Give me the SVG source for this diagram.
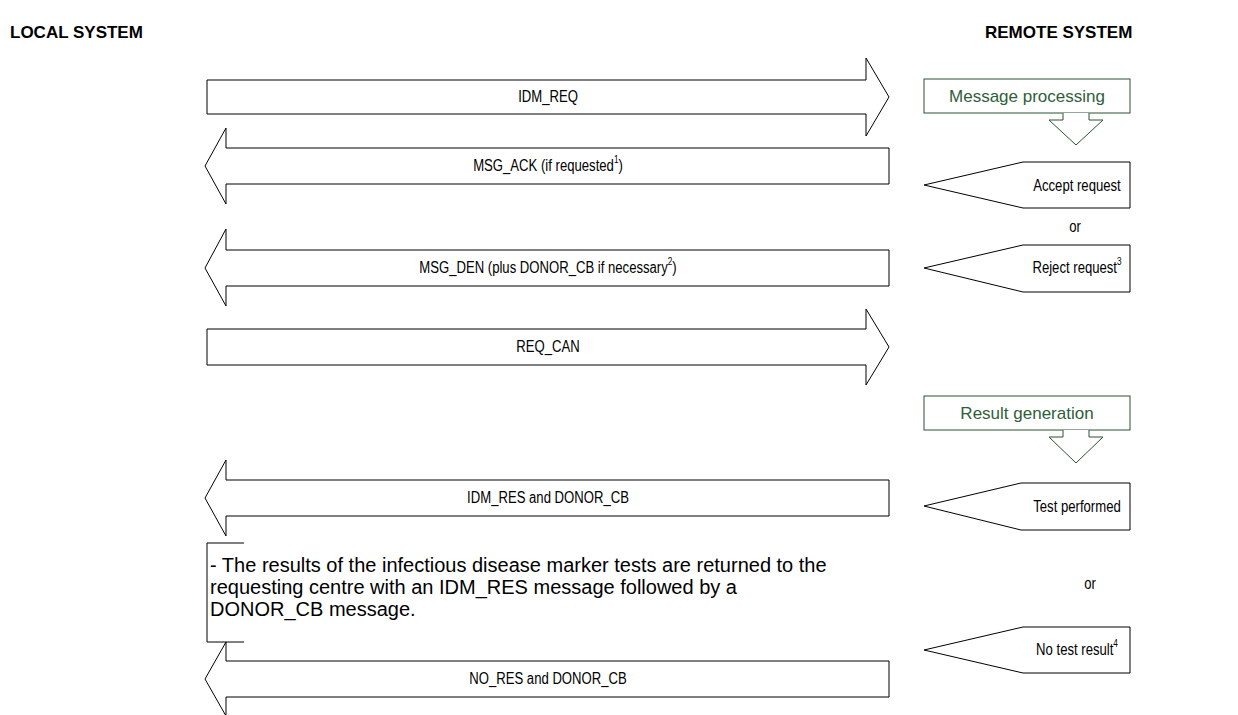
<svg xmlns="http://www.w3.org/2000/svg" width="1238" height="715" viewBox="0 0 1238 715">
<style>
.hdr{font-family:"Liberation Sans",Arial,sans-serif;font-weight:bold;font-size:17px;fill:#000}
.lbl{font-family:"Liberation Sans",Arial,sans-serif;font-size:16px;fill:#000;text-anchor:middle;dominant-baseline:central}
.grn{font-family:"Liberation Sans",Arial,sans-serif;font-size:17px;fill:#2f5e3a;text-anchor:middle;dominant-baseline:central}
.note{font-family:"Liberation Sans",Arial,sans-serif;font-size:20px;fill:#000}
.arr{fill:#fff;stroke:#000;stroke-width:1}
.gbox{fill:#fff;stroke:#2a5234;stroke-width:1}
.sup{font-size:10px}
</style>
<rect width="1238" height="715" fill="#fff"/>
<text class="hdr" x="10" y="38">LOCAL SYSTEM</text>
<text class="hdr" x="985" y="38">REMOTE SYSTEM</text>

<g id="connectors">
<g id="idm_req"><polygon class="arr" points="207,80 866,80 866,58 889,97 866,136 866,114 207,114"/><text class="lbl" transform="translate(548 97) scale(0.82 1)">IDM_REQ</text></g>
<g id="msg_ack"><polygon class="arr" points="889,148 226,148 226,128 205,166 226,204 226,184 889,184"/><text class="lbl" transform="translate(548 166) scale(0.82 1)">MSG_ACK (if requested<tspan class="sup" dy="-6">1</tspan><tspan dy="6">)</tspan></text></g>
<g id="msg_den"><polygon class="arr" points="889,250 226,250 226,229 205,268 226,306 226,286 889,286"/><text class="lbl" transform="translate(548 268) scale(0.82 1)">MSG_DEN (plus DONOR_CB if necessary<tspan class="sup" dy="-6">2</tspan><tspan dy="6">)</tspan></text></g>
<g id="req_can"><polygon class="arr" points="207,329 866,329 866,309 889,347 866,385 866,365 207,365"/><text class="lbl" transform="translate(548 347) scale(0.82 1)">REQ_CAN</text></g>
<g id="idm_res"><polygon class="arr" points="889,480 226,480 226,460 205,498 226,536 226,516 889,516"/><text class="lbl" transform="translate(548 498) scale(0.82 1)">IDM_RES and DONOR_CB</text></g>
<g id="no_res"><polygon class="arr" points="889,661 226,661 226,642 205,679 226,716 226,697 889,697"/><text class="lbl" transform="translate(548 679) scale(0.82 1)">NO_RES and DONOR_CB</text></g>
</g>

<g id="note">
<path d="M244,543 H207 V642 H244" fill="none" stroke="#000" stroke-width="1"/>
<text class="note" x="210" y="572">- The results of the infectious disease marker tests are returned to the</text>
<text class="note" x="210" y="594">requesting centre with an IDM_RES message followed by a</text>
<text class="note" x="210" y="616">DONOR_CB message.</text>
</g>

<g id="message_processing">
<rect class="gbox" x="924" y="79" width="206" height="34"/>
<path class="gbox" d="M1063,113 V120 H1049 L1076,145 L1103,120 H1089 V113"/>
<text class="grn" x="1027" y="96">Message processing</text>
</g>
<g id="accept_request"><polygon class="arr" points="924,185 1023,162 1130,162 1130,208 1023,208"/><text class="lbl" transform="translate(1077 186) scale(0.82 1)">Accept request</text></g>
<text class="lbl" transform="translate(1075 227) scale(0.82 1)">or</text>
<g id="reject_request"><polygon class="arr" points="924,268 1023,245 1130,245 1130,292 1023,292"/><text class="lbl" transform="translate(1077 268) scale(0.82 1)">Reject request<tspan class="sup" dy="-6">3</tspan></text></g>

<g id="result_generation">
<rect class="gbox" x="924" y="396" width="206" height="34"/>
<path class="gbox" d="M1063,430 V437 H1049 L1076,463 L1103,437 H1089 V430"/>
<text class="grn" x="1027" y="413">Result generation</text>
</g>
<g id="test_performed"><polygon class="arr" points="924,506 1021,483 1130,483 1130,530 1021,530"/><text class="lbl" transform="translate(1077 507) scale(0.82 1)">Test performed</text></g>
<text class="lbl" transform="translate(1090 584) scale(0.82 1)">or</text>
<g id="no_test_result"><polygon class="arr" points="924,650 1023,627 1130,627 1130,673 1023,673"/><text class="lbl" transform="translate(1077 650) scale(0.82 1)">No test result<tspan class="sup" dy="-6">4</tspan></text></g>
</svg>
